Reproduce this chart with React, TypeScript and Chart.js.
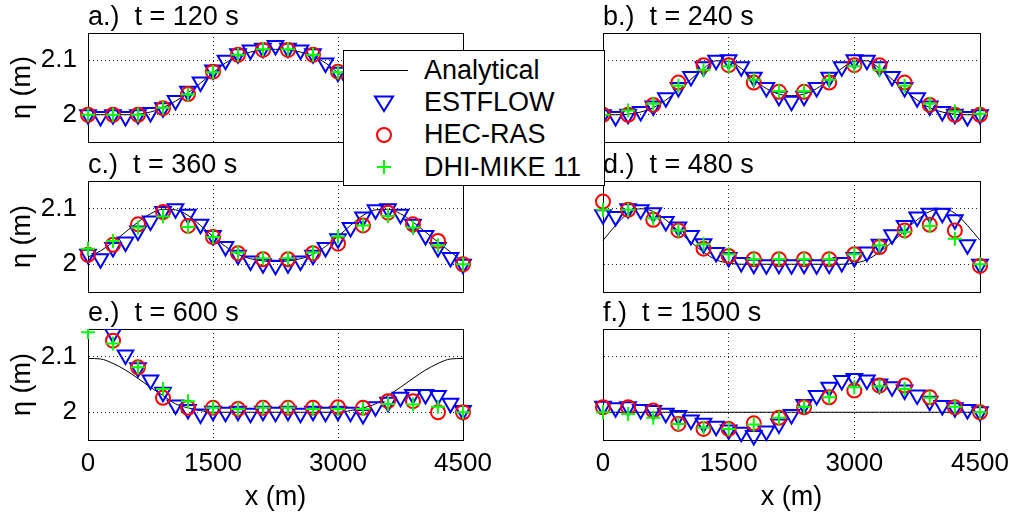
import React, { useEffect, useRef } from 'react';
import { Chart, registerables } from 'chart.js';

Chart.register(...registerables);

const FONT = "'Liberation Sans', Arial, Helvetica, sans-serif";

// ---------- data ----------
const xDense = [0, 150, 300, 450, 600, 750, 900, 1050, 1200, 1350, 1500, 1650, 1800, 1950, 2100, 2250, 2400, 2550, 2700, 2850, 3000, 3150, 3300, 3450, 3600, 3750, 3900, 4050, 4200, 4350, 4500];
const xCoarse = [0, 300, 600, 900, 1200, 1500, 1800, 2100, 2400, 2700, 3000, 3300, 3600, 3900, 4200, 4500];
const xTicks = [0, 1500, 3000, 4500];
const xTickLabels = ['0', '1500', '3000', '4500'];
const yTicks = [2, 2.1];
const yTickLabels = ['2', '2.1'];
const seriesNames = ['Analytical', 'ESTFLOW', 'HEC-RAS', 'DHI-MIKE 11'];
const panelTitles = ['a.)  t = 120 s', 'b.)  t = 240 s', 'c.)  t = 360 s', 'd.)  t = 480 s', 'e.)  t = 600 s', 'f.)  t = 1500 s'];

// a.) t = 120 s
const aAnalytical = [2.000, 2.000, 2.000, 2.000, 2.001, 2.005, 2.013, 2.025, 2.040, 2.058, 2.077, 2.095, 2.107, 2.115, 2.119, 2.120, 2.119, 2.115, 2.107, 2.095, 2.077, 2.058, 2.040, 2.025, 2.013, 2.005, 2.001, 2.000, 2.000, 2.000, 2.000];
const aEstflow = [2.000, 1.997, 2.000, 1.997, 2.000, 2.004, 2.013, 2.026, 2.043, 2.060, 2.082, 2.100, 2.112, 2.119, 2.122, 2.127, 2.122, 2.119, 2.112, 2.095, 2.078, 2.057, 2.038, 2.022, 2.010, 2.002, 1.998, 2.000, 1.997, 2.000, 2.000];
const aHecras = [2.000, 2.000, 2.000, 2.012, 2.038, 2.079, 2.110, 2.119, 2.119, 2.110, 2.079, 2.038, 2.012, 2.000, 2.000, 2.000];
const aDhi = [2.000, 2.000, 2.000, 2.013, 2.037, 2.078, 2.110, 2.120, 2.120, 2.110, 2.078, 2.037, 2.013, 2.000, 2.000, 2.000];

// b.) t = 240 s
const bAnalytical = [2.000, 2.000, 2.001, 2.005, 2.013, 2.027, 2.045, 2.065, 2.085, 2.099, 2.098, 2.085, 2.065, 2.048, 2.038, 2.035, 2.038, 2.048, 2.065, 2.085, 2.098, 2.099, 2.085, 2.065, 2.045, 2.027, 2.013, 2.005, 2.001, 2.000, 2.000];
const bEstflow = [2.000, 1.997, 2.001, 2.006, 2.016, 2.031, 2.050, 2.070, 2.088, 2.100, 2.101, 2.088, 2.069, 2.050, 2.034, 2.025, 2.034, 2.050, 2.069, 2.088, 2.101, 2.100, 2.088, 2.070, 2.050, 2.031, 2.016, 2.006, 2.001, 1.997, 2.000];
const bHecras = [2.000, 2.000, 2.018, 2.059, 2.091, 2.091, 2.059, 2.042, 2.042, 2.059, 2.091, 2.091, 2.059, 2.018, 2.000, 2.000];
const bDhi = [2.000, 2.008, 2.020, 2.053, 2.082, 2.089, 2.064, 2.043, 2.043, 2.064, 2.089, 2.082, 2.053, 2.020, 2.006, 2.002];

// c.) t = 360 s
const cAnalytical = [2.013, 2.024, 2.040, 2.058, 2.076, 2.091, 2.099, 2.098, 2.088, 2.070, 2.050, 2.032, 2.018, 2.010, 2.006, 2.005, 2.006, 2.010, 2.018, 2.032, 2.050, 2.070, 2.088, 2.098, 2.099, 2.091, 2.076, 2.058, 2.040, 2.022, 2.005];
const cEstflow = [2.018, 2.010, 2.030, 2.040, 2.060, 2.078, 2.095, 2.100, 2.090, 2.072, 2.052, 2.032, 2.016, 2.006, 2.001, 1.998, 2.001, 2.006, 2.016, 2.030, 2.046, 2.066, 2.085, 2.098, 2.100, 2.090, 2.072, 2.052, 2.030, 2.012, 2.000];
const cHecras = [2.017, 2.035, 2.072, 2.094, 2.069, 2.049, 2.020, 2.009, 2.009, 2.020, 2.037, 2.070, 2.093, 2.072, 2.042, 2.000];
const cDhi = [2.028, 2.042, 2.066, 2.086, 2.067, 2.049, 2.021, 2.011, 2.011, 2.021, 2.050, 2.070, 2.087, 2.066, 2.034, 2.000];

// d.) t = 480 s
const dAnalytical = [2.043, 2.070, 2.092, 2.100, 2.095, 2.080, 2.060, 2.040, 2.022, 2.008, 2.002, 2.000, 2.000, 2.000, 2.000, 2.000, 2.000, 2.000, 2.000, 2.000, 2.002, 2.008, 2.022, 2.040, 2.060, 2.080, 2.095, 2.100, 2.092, 2.070, 2.043];
const dEstflow = [2.089, 2.086, 2.100, 2.098, 2.093, 2.077, 2.067, 2.052, 2.037, 2.021, 2.012, 2.003, 2.000, 1.999, 2.000, 1.999, 2.000, 1.999, 2.000, 2.003, 2.012, 2.022, 2.036, 2.053, 2.070, 2.085, 2.092, 2.092, 2.080, 2.035, 2.000];
const dHecras = [2.113, 2.098, 2.080, 2.061, 2.028, 2.015, 2.009, 2.009, 2.009, 2.009, 2.018, 2.031, 2.061, 2.071, 2.061, 1.997];
const dDhi = [2.098, 2.098, 2.083, 2.061, 2.036, 2.018, 2.009, 2.009, 2.009, 2.009, 2.018, 2.034, 2.058, 2.069, 2.046, 2.000];

// e.) t = 600 s
const eAnalytical = [2.097, 2.096, 2.088, 2.076, 2.061, 2.045, 2.030, 2.015, 2.008, 2.003, 2.000, 2.000, 2.000, 2.000, 2.000, 2.000, 2.000, 2.000, 2.000, 2.000, 2.000, 2.003, 2.008, 2.015, 2.030, 2.045, 2.061, 2.076, 2.088, 2.096, 2.097];
const eEstflow = [2.200, 2.170, 2.142, 2.103, 2.080, 2.058, 2.036, 2.013, 2.005, 1.997, 2.002, 2.000, 2.002, 1.998, 2.002, 2.000, 2.002, 1.998, 2.002, 2.000, 2.002, 2.000, 1.996, 2.010, 2.018, 2.027, 2.032, 2.032, 2.030, 2.016, 2.003];
const eHecras = [2.190, 2.129, 2.081, 2.026, 2.008, 2.008, 2.006, 2.008, 2.008, 2.008, 2.009, 2.008, 2.020, 2.020, 2.000, 2.000];
const eDhi = [2.144, 2.124, 2.081, 2.042, 2.020, 2.008, 2.006, 2.008, 2.008, 2.006, 2.006, 2.006, 2.015, 2.014, 2.010, 2.000];

// f.) t = 1500 s
const fAnalytical = [2.000, 2.000, 2.000, 2.000, 2.000, 2.000, 2.000, 2.000, 2.000, 2.000, 2.000, 2.000, 2.000, 2.000, 2.000, 2.000, 2.000, 2.000, 2.000, 2.000, 2.000, 2.000, 2.000, 2.000, 2.000, 2.000, 2.000, 2.000, 2.000, 2.000, 2.000];
const fEstflow = [2.011, 2.008, 2.010, 2.005, 2.003, 1.998, 1.994, 1.986, 1.980, 1.975, 1.968, 1.964, 1.958, 1.966, 1.979, 1.996, 2.014, 2.030, 2.045, 2.057, 2.061, 2.058, 2.051, 2.046, 2.040, 2.031, 2.020, 2.012, 2.008, 2.005, 2.001];
const fHecras = [2.009, 2.009, 2.003, 1.979, 1.970, 1.970, 1.980, 1.990, 2.009, 2.027, 2.039, 2.048, 2.048, 2.027, 2.009, 2.000];
const fDhi = [2.000, 1.997, 1.990, 1.979, 1.972, 1.970, 1.978, 1.990, 2.010, 2.027, 2.045, 2.047, 2.042, 2.026, 2.010, 2.000];

// ---------- layout ----------
const colLeft = [88, 603];
const colWidth = [375, 377];
const rowTop = [33, 181, 329];
const rowHeight = [110, 112, 111];
const PAGE_H = 516;

type PanelDef = {
  title: string;
  analytical: number[];
  estflow: number[];
  hecras: number[];
  dhi: number[];
  col: number;
  row: number;
};

const panels: PanelDef[] = [
  { title: panelTitles[0], analytical: aAnalytical, estflow: aEstflow, hecras: aHecras, dhi: aDhi, col: 0, row: 0 },
  { title: panelTitles[1], analytical: bAnalytical, estflow: bEstflow, hecras: bHecras, dhi: bDhi, col: 1, row: 0 },
  { title: panelTitles[2], analytical: cAnalytical, estflow: cEstflow, hecras: cHecras, dhi: cDhi, col: 0, row: 1 },
  { title: panelTitles[3], analytical: dAnalytical, estflow: dEstflow, hecras: dHecras, dhi: dDhi, col: 1, row: 1 },
  { title: panelTitles[4], analytical: eAnalytical, estflow: eEstflow, hecras: eHecras, dhi: eDhi, col: 0, row: 2 },
  { title: panelTitles[5], analytical: fAnalytical, estflow: fEstflow, hecras: fHecras, dhi: fDhi, col: 1, row: 2 },
];

const boxPlugin = {
  id: 'axesBox',
  beforeDatasetsDraw(chart: any) {
    const { ctx, chartArea } = chart;
    const l = Math.round(chartArea.left) + 0.5;
    const t = Math.round(chartArea.top) + 0.5;
    const r = Math.round(chartArea.right) + 0.5;
    const b = Math.round(chartArea.bottom) + 0.5;
    ctx.save();
    ctx.strokeStyle = '#000';
    ctx.lineWidth = 1;
    ctx.strokeRect(l, t, r - l, b - t);
    ctx.restore();
  },
};

function toPoints(xs: number[], ys: number[]) {
  return ys.map((y, i) => ({ x: xs[i], y }));
}

function Panel({ p }: { p: PanelDef }) {
  const ref = useRef<HTMLCanvasElement>(null);
  const isLeft = p.col === 0;
  const isBottom = p.row === 2;
  const L = 88;
  const T = 39;
  const R = 32;
  const B = isBottom ? PAGE_H - (rowTop[2] + rowHeight[2]) : 10;
  const w = L + colWidth[p.col] + R;
  const h = T + rowHeight[p.row] + B;
  const left = colLeft[p.col] - L;
  const top = rowTop[p.row] - T;

  useEffect(() => {
    if (!ref.current) return;
    const clip = { left: 14, right: 14, top: 0, bottom: 14 };
    const chart = new Chart(ref.current, {
      type: 'scatter',
      data: {
        datasets: [
          {
            label: seriesNames[3],
            data: toPoints(xCoarse, p.dhi),
            pointStyle: 'cross',
            pointRadius: 7,
            pointBorderColor: '#00ff00',
            pointBackgroundColor: 'rgba(0,0,0,0)',
            pointBorderWidth: 2,
            showLine: false,
            clip,
            order: 0,
          },
          {
            label: seriesNames[2],
            data: toPoints(xCoarse, p.hecras),
            pointStyle: 'circle',
            pointRadius: 7,
            pointBorderColor: '#ff0000',
            pointBackgroundColor: 'rgba(0,0,0,0)',
            pointBorderWidth: 2,
            showLine: false,
            clip,
            order: 1,
          },
          {
            label: seriesNames[1],
            data: toPoints(xDense, p.estflow),
            pointStyle: 'triangle',
            pointRotation: 180,
            pointRadius: 9,
            pointBorderColor: '#0000ff',
            pointBackgroundColor: 'rgba(0,0,0,0)',
            pointBorderWidth: 2,
            showLine: false,
            clip,
            order: 2,
          },
          {
            label: seriesNames[0],
            data: toPoints(xDense, p.analytical),
            showLine: true,
            borderColor: '#000',
            borderWidth: 1,
            pointRadius: 0,
            cubicInterpolationMode: 'monotone',
            clip,
            order: 3,
          },
        ] as any,
      },
      options: {
        responsive: false,
        animation: false,
        events: [],
        layout: { padding: { left: 0, top: 0, right: R, bottom: 0 } },
        plugins: {
          legend: { display: false },
          tooltip: { enabled: false },
          title: {
            display: true,
            text: p.title,
            align: 'start',
            fullSize: false,
            color: '#000',
            font: { family: FONT, size: 27, weight: 'normal', lineHeight: 1 },
            padding: { top: 10.5, bottom: 1.5 },
          },
        },
        scales: {
          x: {
            type: 'linear',
            min: 0,
            max: 4500,
            afterBuildTicks: (s: any) => {
              s.ticks = xTicks.map((v) => ({ value: v }));
            },
            ticks: {
              display: isBottom,
              color: '#000',
              font: { family: FONT, size: 26, lineHeight: 1.2 },
              padding: 8,
              maxRotation: 0,
              autoSkip: false,
              callback: (v: any) => {
                const i = xTicks.indexOf(Number(v));
                return i >= 0 ? xTickLabels[i] : '';
              },
            },
            grid: { color: 'rgba(0,0,0,0.85)', drawTicks: false, lineWidth: 1 },
            border: { display: true, color: '#000', dash: [1, 3] },
            title: {
              display: isBottom,
              text: 'x (m)',
              color: '#000',
              font: { family: FONT, size: 27, lineHeight: 1.2 },
              padding: { top: 0, bottom: 2 },
            },
            afterFit: (s: any) => {
              s.height = B;
              s.paddingLeft = 0;
              s.paddingRight = 0;
            },
          },
          y: {
            type: 'linear',
            min: 1.95,
            max: 2.15,
            afterBuildTicks: (s: any) => {
              s.ticks = yTicks.map((v) => ({ value: v }));
            },
            ticks: {
              display: isLeft,
              color: '#000',
              font: { family: FONT, size: 26, lineHeight: 1.2 },
              padding: 11,
              callback: (v: any) => {
                const i = yTicks.indexOf(Number(v));
                return i >= 0 ? yTickLabels[i] : '';
              },
            },
            grid: { color: 'rgba(0,0,0,0.85)', drawTicks: false, lineWidth: 1 },
            border: { display: true, color: '#000', dash: [1, 3] },
            title: {
              display: isLeft,
              text: 'η (m)',
              color: '#000',
              font: { family: FONT, size: 27, lineHeight: 1.2 },
              padding: { top: 6, bottom: 0 },
            },
            afterFit: (s: any) => {
              s.width = L;
              s.paddingTop = 0;
              s.paddingBottom = 0;
            },
          },
        },
      } as any,
      plugins: [boxPlugin],
    });
    return () => chart.destroy();
  }, []);

  return (
    <canvas
      ref={ref}
      width={w}
      height={h}
      style={{ position: 'absolute', left, top, width: w, height: h, display: 'block' }}
    />
  );
}

function Legend() {
  const textTop = [19, 51, 83, 116];
  return (
    <div
      style={{
        position: 'absolute',
        left: 343,
        top: 50,
        width: 262,
        height: 136,
        boxSizing: 'border-box',
        border: '1px solid #000',
        background: '#fff',
        zIndex: 10,
        fontFamily: FONT,
        fontSize: 27,
        color: '#000',
      }}
    >
      <svg width={260} height={134} style={{ position: 'absolute', left: 0, top: 0 }}>
        <line x1={16} y1={19.5} x2={64} y2={19.5} stroke="#000" strokeWidth={1} />
        <polygon points="31,45.5 49,45.5 40,60" fill="none" stroke="#0000ff" strokeWidth={2} />
        <circle cx={40} cy={84} r={7} fill="none" stroke="#ff0000" strokeWidth={2} />
        <line x1={33} y1={116} x2={47} y2={116} stroke="#00ff00" strokeWidth={2} />
        <line x1={40} y1={109} x2={40} y2={123} stroke="#00ff00" strokeWidth={2} />
      </svg>
      {seriesNames.map((n, i) => (
        <div
          key={n}
          style={{
            position: 'absolute',
            left: 80,
            top: textTop[i] - 15,
            height: 30,
            lineHeight: '30px',
            whiteSpace: 'nowrap',
          }}
        >
          {n}
        </div>
      ))}
    </div>
  );
}

export default function App() {
  return (
    <div
      style={{
        position: 'absolute',
        left: 0,
        top: 0,
        width: 1012,
        height: 516,
        background: '#fff',
        overflow: 'hidden',
      }}
    >
      {panels.map((p, i) => (
        <Panel key={i} p={p} />
      ))}
      <Legend />
    </div>
  );
}
